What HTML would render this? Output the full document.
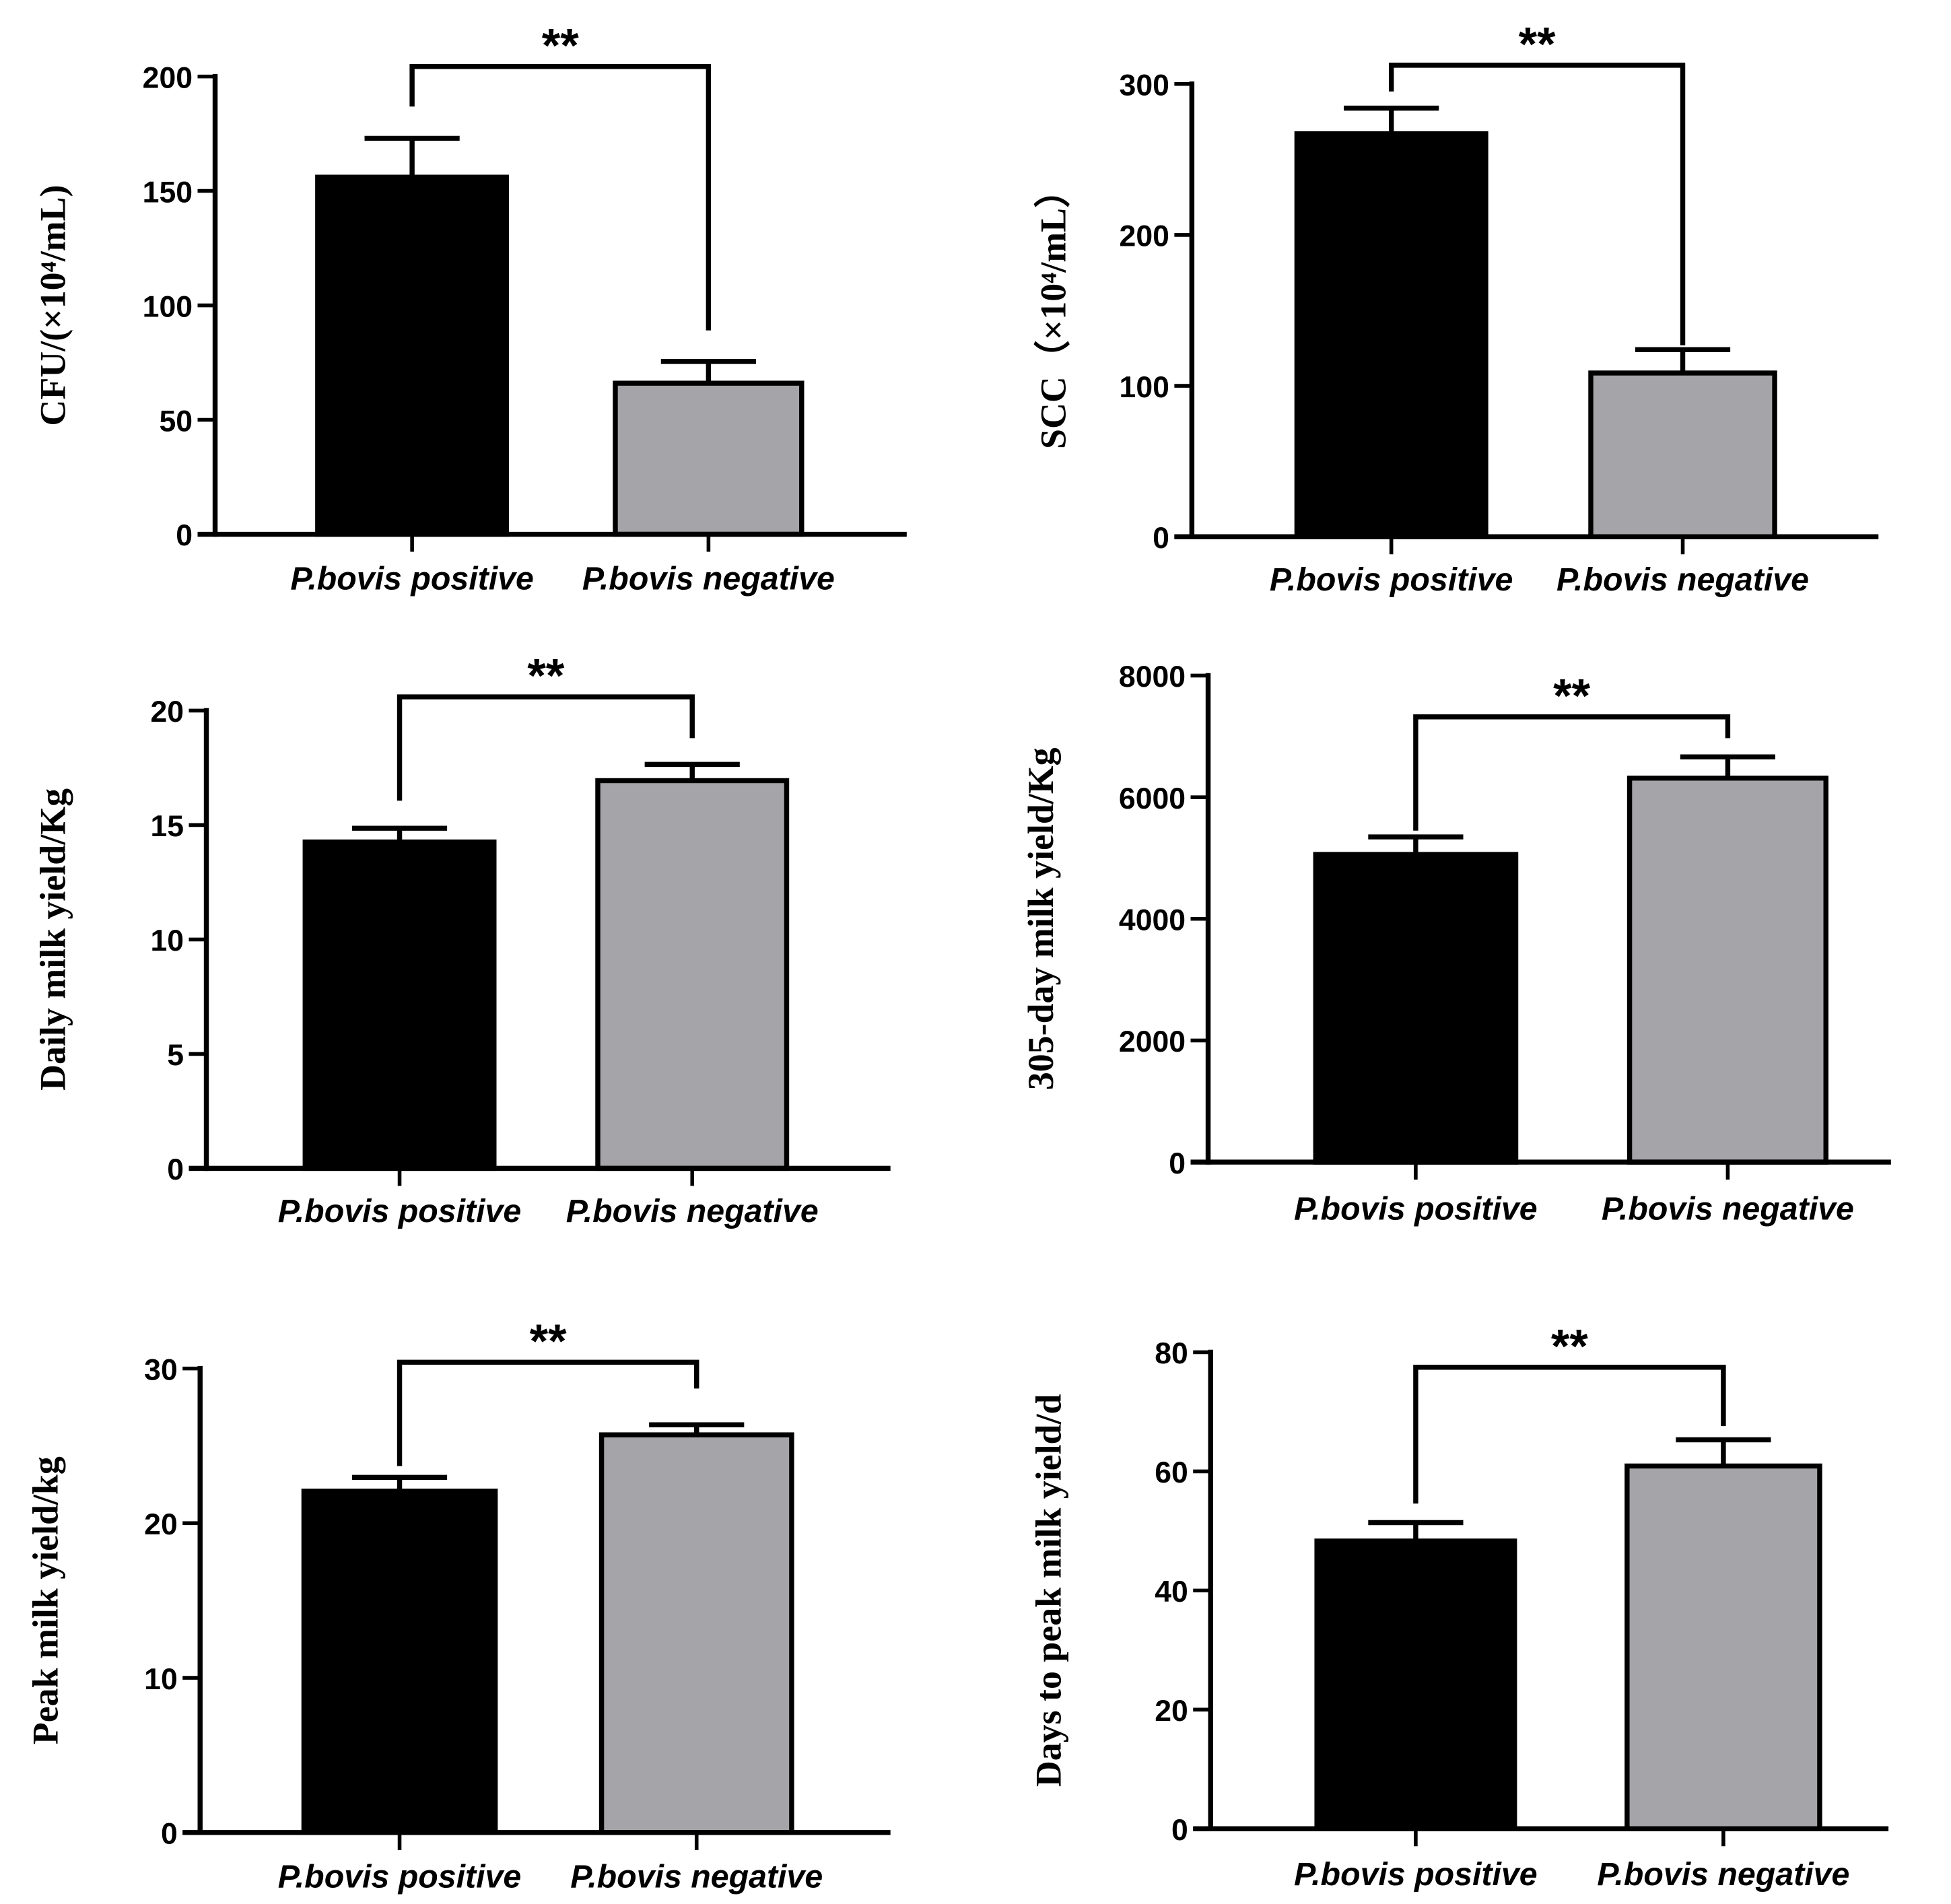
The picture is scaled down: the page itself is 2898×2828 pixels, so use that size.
<!DOCTYPE html>
<html><head><meta charset="utf-8"><style>
html,body{margin:0;padding:0;background:#fff;}
svg{display:block;}
.tick{font-family:"Liberation Sans",sans-serif;font-weight:bold;font-size:24px;}
.xl{font-family:"Liberation Sans",sans-serif;font-weight:bold;font-style:italic;font-size:26px;}
.yt{font-family:"Liberation Serif",serif;font-weight:bold;font-size:29px;}
.sig{font-family:"Liberation Sans",sans-serif;font-weight:bold;font-size:38px;}
</style></head><body>
<svg id="fig" width="2898" height="2828" viewBox="0 0 1560 1522" xmlns="http://www.w3.org/2000/svg"></svg>
<script>
const categories = ["P.bovis positive", "P.bovis negative"];
const cfuMeans = [156, 66];
const cfuErr = [173, 75.5];
const sccMeans = [267, 108.5];
const sccErr = [284, 124];
const dailyMeans = [14.26, 16.94];
const dailyErr = [14.86, 17.65];
const yield305Means = [5059, 6314];
const yield305Err = [5347, 6663];
const peakMeans = [22.07, 25.71];
const peakErr = [22.96, 26.36];
const daysMeans = [48.3, 60.9];
const daysErr = [51.4, 65.3];
const cfuTicks = [0, 50, 100, 150, 200];
const sccTicks = [0, 100, 200, 300];
const dailyTicks = [0, 5, 10, 15, 20];
const yield305Ticks = [0, 2000, 4000, 6000, 8000];
const peakTicks = [0, 10, 20, 30];
const daysTicks = [0, 20, 40, 60, 80];

const panels = [
 {name:"cfu", title:"CFU/(×10⁴/mL)", means:cfuMeans, err:cfuErr, ticks:cfuTicks, ax:172, top:61, zero:427, xend:725, bars:[[252,407],[490,643]], br:{y:53,l:85,r:264}, lab:462, tx:42},
 {name:"scc", title:"SCC（×10⁴/mL）", means:sccMeans, err:sccErr, ticks:sccTicks, ax:953, top:67, zero:429, xend:1502, bars:[[1035,1190],[1270,1421]], br:{y:52,l:73,r:276}, lab:463, tx:842},
 {name:"daily-yield", title:"Daily milk yield/Kg", means:dailyMeans, err:dailyErr, ticks:dailyTicks, ax:165, top:568, zero:934, xend:712, bars:[[242,397],[476,631]], br:{y:557,l:640,r:590}, lab:968, tx:42},
 {name:"yield-305", title:"305-day milk yield/Kg", means:yield305Means, err:yield305Err, ticks:yield305Ticks, ax:966, top:540, zero:929, xend:1512, bars:[[1050,1214],[1301,1462]], br:{y:573,l:664,r:590}, lab:966, tx:832},
 {name:"peak-yield", title:"Peak milk yield/kg", means:peakMeans, err:peakErr, ticks:peakTicks, ax:160, top:1094, zero:1465, xend:712, bars:[[241,398],[479,635]], br:{y:1089,l:1172,r:1110}, lab:1500, tx:36},
 {name:"days-to-peak", title:"Days to peak milk yield/d", means:daysMeans, err:daysErr, ticks:daysTicks, ax:968, top:1081, zero:1462, xend:1510, bars:[[1051,1213],[1299,1457]], br:{y:1093,l:1202,r:1140}, lab:1498, tx:838}
];
const NS="http://www.w3.org/2000/svg";
const svg=document.getElementById('fig');
function mk(tag, attrs, parent){const e=document.createElementNS(NS,tag);for(const k in attrs)e.setAttribute(k,attrs[k]);parent.appendChild(e);return e;}
panels.forEach(p=>{
 const g=mk('g',{},svg);
 
 
 const max=p.ticks[p.ticks.length-1];
 const y=v=>p.zero-(v/max)*(p.zero-p.top);
 p.means.forEach((m,i)=>{
  const [x0,x1]=p.bars[i];const cx=(x0+x1)/2;
  const ey=y(p.err[i]);
  const eb=mk('path',{d:`M${cx} ${y(m)} V${ey} M${cx-38} ${ey} H${cx+38}`,stroke:'#000','stroke-width':4,fill:'none'},g);
  
  
  const r=mk('rect',{x:x0+2,y:y(m),width:x1-x0-4,height:p.zero-y(m),fill:i==0?'#000':'#a5a4a8',stroke:'#000','stroke-width':4},g);
  
  
  const tk=mk('line',{x1:cx,x2:cx,y1:p.zero,y2:p.zero+14,stroke:'#000','stroke-width':3},g);
  
  
  const t=mk('text',{x:cx,y:p.lab+9,'text-anchor':'middle',class:'xl'},g);
  t.textContent=categories[i];
  
  
 });
 const ya=mk('line',{x1:p.ax,x2:p.ax,y1:p.top-2,y2:p.zero+2,stroke:'#000','stroke-width':4},g);
 
 
 const xa=mk('line',{x1:p.ax-14,x2:p.xend,y1:p.zero,y2:p.zero,stroke:'#000','stroke-width':4},g);
 
 
 p.ticks.forEach(v=>{
  const ty=y(v);
  mk('line',{x1:p.ax-14,x2:p.ax,y1:ty,y2:ty,stroke:'#000','stroke-width':3},g);
  const t=mk('text',{x:p.ax-18,y:ty+9,'text-anchor':'end',class:'tick'},g);
  t.textContent=v;
  
  
 });
 const ycy=(p.top+p.zero)/2;
 const tt=mk('text',{x:p.tx,y:ycy,'text-anchor':'middle',class:'yt',transform:`rotate(-90 ${p.tx} ${ycy}) translate(0 10)`},g);
 tt.textContent=p.title;
 
 
 const c0=(p.bars[0][0]+p.bars[0][1])/2, c1=(p.bars[1][0]+p.bars[1][1])/2;
 const b=mk('path',{d:`M${c0} ${p.br.l} V${p.br.y} H${c1} V${p.br.r}`,stroke:'#000','stroke-width':4,fill:'none'},g);
 
 
 const s=mk('text',{x:(c0+c1)/2,y:p.br.y-4,'text-anchor':'middle',class:'sig'},g);
 s.textContent='**';
 
 
});
</script>
</body></html>
